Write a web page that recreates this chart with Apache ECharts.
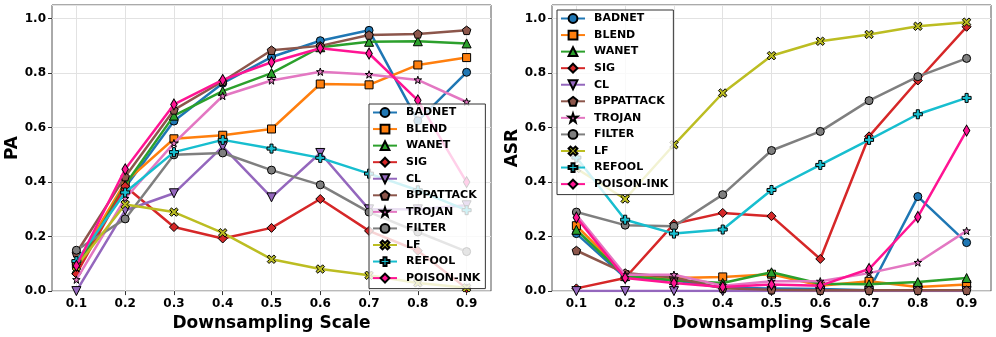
<!DOCTYPE html>
<html>
<head>
<meta charset="utf-8">
<script src="https://cdn.jsdelivr.net/npm/echarts@6/dist/echarts.min.js"></script>
<style>
html,body{margin:0;padding:0;background:#fff;}
#chart{width:996px;height:337px;}
</style>
</head>
<body>
<div id="chart"></div>
<script>
// ---- data ----
const scales = ['0.1','0.2','0.3','0.4','0.5','0.6','0.7','0.8','0.9'];
const yTicks = [0, 0.2, 0.4, 0.6, 0.8, 1.0];
const names = ['BADNET','BLEND','WANET','SIG','CL','BPPATTACK','TROJAN','FILTER','LF','REFOOL','POISON-INK'];

// PA (left panel)
const paBADNET  = [0.10, 0.38, 0.624, 0.763, 0.859, 0.919, 0.957, 0.625, 0.803];
const paBLEND   = [0.10, 0.40, 0.559, 0.572, 0.595, 0.760, 0.757, 0.830, 0.857];
const paWANET   = [0.08, 0.39, 0.644, 0.734, 0.800, 0.895, 0.915, 0.917, 0.909];
const paSIG     = [0.063, 0.385, 0.235, 0.193, 0.232, 0.338, 0.221, 0.148, 0.010];
const paCL      = [0.0, 0.296, 0.359, 0.530, 0.344, 0.507, 0.300, 0.300, 0.315];
const paBPP     = [0.14, 0.42, 0.665, 0.770, 0.884, 0.900, 0.940, 0.944, 0.957];
const paTROJAN  = [0.042, 0.34, 0.543, 0.716, 0.773, 0.805, 0.795, 0.775, 0.694];
const paFILTER  = [0.15, 0.265, 0.500, 0.507, 0.444, 0.390, 0.290, 0.217, 0.145];
const paLF      = [0.09, 0.318, 0.290, 0.214, 0.117, 0.081, 0.058, 0.030, 0.012];
const paREFOOL  = [0.11, 0.362, 0.510, 0.555, 0.523, 0.489, 0.431, 0.370, 0.297];
const paPOISON  = [0.093, 0.447, 0.685, 0.775, 0.840, 0.891, 0.872, 0.700, 0.400];

// ASR (right panel)
const asrBADNET = [0.211, 0.050, 0.040, 0.012, 0.010, 0.008, 0.003, 0.347, 0.178];
const asrBLEND  = [0.240, 0.060, 0.048, 0.052, 0.062, 0.020, 0.036, 0.015, 0.024];
const asrWANET  = [0.225, 0.055, 0.040, 0.030, 0.069, 0.027, 0.025, 0.033, 0.048];
const asrSIG    = [0.010, 0.048, 0.247, 0.287, 0.275, 0.118, 0.568, 0.773, 0.970];
const asrCL     = [0.0, 0.0, 0.0, 0.0, 0.0, 0.0, 0.0, 0.0, 0.0];
const asrBPP    = [0.149, 0.066, 0.050, 0.010, 0.005, 0.003, 0.003, 0.003, 0.003];
const asrTROJAN = [0.280, 0.060, 0.060, 0.020, 0.036, 0.036, 0.066, 0.105, 0.221];
const asrFILTER = [0.290, 0.242, 0.238, 0.354, 0.516, 0.586, 0.699, 0.787, 0.854];
const asrLF     = [0.450, 0.338, 0.537, 0.727, 0.864, 0.917, 0.942, 0.972, 0.987];
const asrREFOOL = [0.490, 0.262, 0.211, 0.226, 0.371, 0.463, 0.555, 0.649, 0.709];
const asrPOISON = [0.270, 0.048, 0.030, 0.015, 0.024, 0.020, 0.081, 0.272, 0.589];

const paData  = [paBADNET, paBLEND, paWANET, paSIG, paCL, paBPP, paTROJAN, paFILTER, paLF, paREFOOL, paPOISON];
const asrData = [asrBADNET, asrBLEND, asrWANET, asrSIG, asrCL, asrBPP, asrTROJAN, asrFILTER, asrLF, asrREFOOL, asrPOISON];

// ---- styles ----
const colors = ['#1f77b4','#ff7f0e','#2ca02c','#d62728','#9467bd','#8c564b','#e377c2','#7f7f7f','#bcbd22','#17becf','#ff1493'];
const SYM = {
  circle: 'circle',
  square: 'rect',
  triUp: 'triangle',
  diamond: 'diamond',
  triDown: 'path://M0,0 L100,0 L50,86 Z',
  pentagon: 'path://M50,0 L97.6,34.5 L79.4,90.5 L20.6,90.5 L2.4,34.5 Z',
  star: 'path://M50,0 L61.8,35.1 L97.6,34.5 L69.1,56.7 L79.4,95 L50,72 L20.6,95 L30.9,56.7 L2.4,34.5 L38.2,35.1 Z',
  xfill: 'path://M0,22 L22,0 L50,28 L78,0 L100,22 L72,50 L100,78 L78,100 L50,72 L22,100 L0,78 L28,50 Z',
  plus: 'path://M33,0 L67,0 L67,33 L100,33 L100,67 L67,67 L67,100 L33,100 L33,67 L0,67 L0,33 L33,33 Z',
  thinDiamond: 'diamond'
};
const symbols = [SYM.circle, SYM.square, SYM.triUp, SYM.diamond, SYM.triDown, SYM.pentagon, SYM.star, SYM.circle, SYM.xfill, SYM.plus, SYM.thinDiamond];
const sizes = [8, 8, 9, 9, 9, 8.5, 7.5, 8, 8.5, 9, [6.5, 11]];

const FONT = 'DejaVu Sans';

function makeSeries(dataSets, gridIdx) {
  return names.map((n, i) => ({
    name: n,
    type: 'line',
    xAxisIndex: gridIdx,
    yAxisIndex: gridIdx,
    data: dataSets[i],
    symbol: symbols[i],
    symbolSize: sizes[i],
    showAllSymbol: true,
    color: colors[i],
    lineStyle: { width: 2.5, color: colors[i] },
    itemStyle: { color: colors[i], borderColor: '#000', borderWidth: 1 },
    z: 2 + i * 0.01,
    animation: false,
    emphasis: { disabled: true }
  }));
}

function makeLegend(left, top) {
  return {
    orient: 'vertical',
    left: left, top: top,
    data: names,
    itemWidth: 24, itemHeight: 11, itemGap: 5.56,
    padding: [3, 5, 5, 3],
    backgroundColor: 'rgba(255,255,255,0.8)',
    borderColor: '#333', borderWidth: 1, borderRadius: 0,
    textStyle: { fontFamily: FONT, fontWeight: 'bold', fontSize: 11, color: '#000', padding: [0, 0, 0, 4] },
    selectedMode: false
  };
}

function xAxis(gridIdx) {
  return {
    type: 'category', gridIndex: gridIdx, data: scales, boundaryGap: true,
    name: 'Downsampling Scale', nameLocation: 'middle', nameGap: 16,
    nameTextStyle: { fontFamily: FONT, fontWeight: 'bold', fontSize: 17, color: '#000' },
    axisLine: { show: false },
    axisTick: { show: true, alignWithLabel: true, length: 4, lineStyle: { color: '#333' } },
    axisLabel: { fontFamily: FONT, fontWeight: 'bold', fontSize: 12, color: '#000', margin: 7, interval: 0 },
    splitLine: { show: true, alignWithLabel: true, interval: 0, lineStyle: { color: '#e2e2e2', width: 1 } }
  };
}
function yAxis(gridIdx, name) {
  return {
    type: 'value', gridIndex: gridIdx, min: 0, max: 1.05, interval: 0.2,
    name: name, nameLocation: 'middle', nameGap: 31,
    nameTextStyle: { fontFamily: FONT, fontWeight: 'bold', fontSize: 17, color: '#000' },
    axisLine: { show: false },
    axisTick: { show: true, length: 4, lineStyle: { color: '#333' } },
    axisLabel: {
      fontFamily: FONT, fontWeight: 'bold', fontSize: 12, color: '#000', margin: 6,
      showMaxLabel: false,
      formatter: v => yTicks.some(t => Math.abs(t - v) < 1e-6) ? v.toFixed(1) : ''
    },
    splitLine: { show: true, lineStyle: { color: '#e2e2e2', width: 1 } }
  };
}

const chart = echarts.init(document.getElementById('chart'), null, { renderer: 'canvas' });
chart.setOption({
  animation: false,
  backgroundColor: '#fff',
  grid: [
    { left: 52, right: 505, top: 5, bottom: 42, show: true, borderColor: '#555', borderWidth: 1, backgroundColor: 'transparent' },
    { left: 552, right: 5, top: 5, bottom: 42, show: true, borderColor: '#555', borderWidth: 1, backgroundColor: 'transparent' }
  ],
  legend: [makeLegend(369, 104), makeLegend(557, 10)],
  xAxis: [xAxis(0), xAxis(1)],
  yAxis: [yAxis(0, 'PA'), yAxis(1, 'ASR')],
  series: makeSeries(paData, 0).concat(makeSeries(asrData, 1))
});
</script>
</body>
</html>
